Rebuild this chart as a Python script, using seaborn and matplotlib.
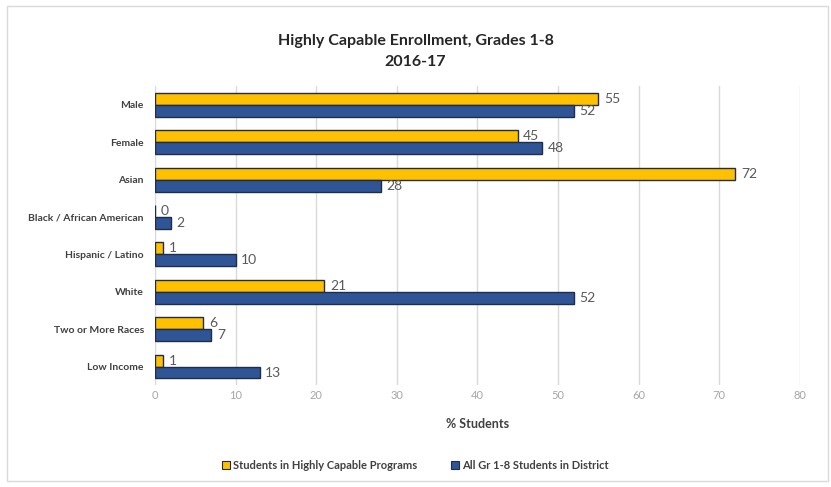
import pandas as pd
import numpy as np
import matplotlib
matplotlib.use("Agg")
import matplotlib.pyplot as plt
import seaborn as sns
from matplotlib.patches import Rectangle

categories = ['Male', 'Female', 'Asian', 'Black / African American', 'Hispanic / Latino',
              'White', 'Two or More Races', 'Low Income']
highly_capable = [55, 45, 72, 0, 1, 21, 6, 1]
all_students = [52, 48, 28, 2, 10, 52, 7, 13]
series_names = ['Students in Highly Capable Programs', 'All Gr 1-8 Students in District']
x_ticks = [0, 10, 20, 30, 40, 50, 60, 70, 80]

df = pd.DataFrame({
    'Category': categories * 2,
    'Series': [series_names[0]] * len(categories) + [series_names[1]] * len(categories),
    'Value': highly_capable + all_students,
})

sns.set_style('white')
plt.rcParams['font.family'] = ['Lato', 'DejaVu Sans']

fig = plt.figure(figsize=(8.31, 4.87), dpi=100)
ax = fig.add_axes([0.1865, 0.209, 0.776, 0.614])

palette = {series_names[0]: '#FFC000', series_names[1]: '#2F5597'}
sns.barplot(data=df, x='Value', y='Category', hue='Series', orient='h',
            palette=palette, width=0.64, edgecolor='#1f2d4a', linewidth=1,
            saturation=1, ax=ax, legend=False)

for cont in ax.containers:
    ax.bar_label(cont, padding=4, fontsize=10, color='#595959')

ax.set_xlim(0, 80)
ax.set_xticks(x_ticks)
ax.tick_params(axis='x', labelsize=8, colors='#a6a6a6', length=0)
ax.tick_params(axis='y', labelsize=7.5, length=0, pad=8)
for lbl in ax.get_yticklabels():
    lbl.set_color('#404040')
    lbl.set_fontweight('bold')
ax.xaxis.grid(True, color='#d9d9d9', linewidth=1)
ax.set_axisbelow(True)
for s in ax.spines.values():
    s.set_visible(False)
ax.set_ylabel('')
ax.set_xlabel('% Students', fontsize=9, fontweight='bold', color='#404040', labelpad=12)

fig.text(0.5, 0.915, 'Highly Capable Enrollment, Grades 1-8', ha='center', va='center',
         fontsize=11.5, fontweight='bold', color='#262626')
fig.text(0.5, 0.872, '2016-17', ha='center', va='center',
         fontsize=11.5, fontweight='bold', color='#262626')

handles = [Rectangle((0, 0), 1, 1, facecolor=palette[n], edgecolor='#1f2d4a', linewidth=0.8)
           for n in series_names]
fig.legend(handles, series_names, loc='center', bbox_to_anchor=(0.5, 0.045), ncol=2,
           frameon=False, handlelength=0.7, handleheight=0.7,
           handletextpad=0.3, columnspacing=3,
           prop={'weight': 'bold', 'size': 8})
for t in fig.legends[0].get_texts():
    t.set_color('#404040')

fig.patches.append(Rectangle((0.008, 0.012), 0.988, 0.975, transform=fig.transFigure,
                             fill=False, edgecolor='#d9d9d9', linewidth=1))

fig.savefig('out.png', dpi=100)
